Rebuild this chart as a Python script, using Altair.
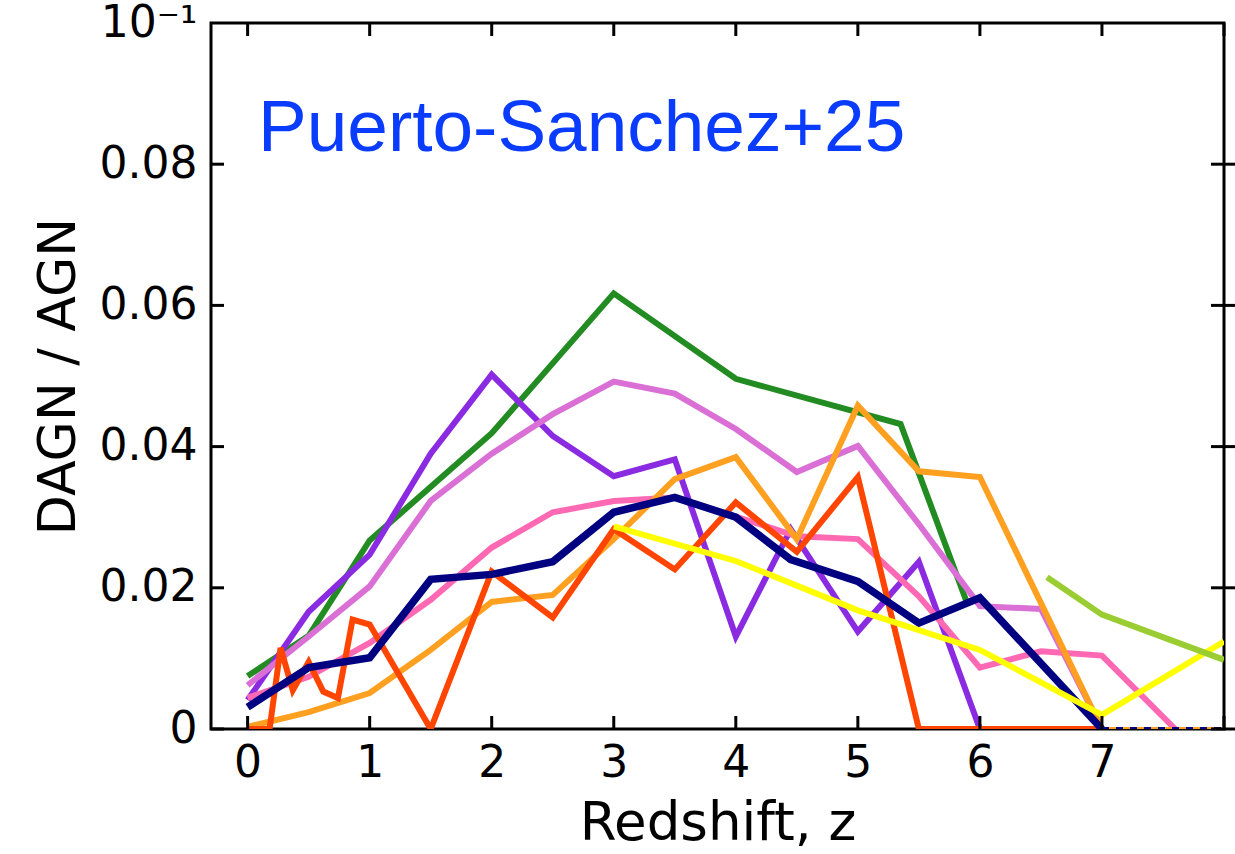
import altair as alt
import pandas as pd

# ---- data: DAGN / AGN ratio versus redshift for each run ----
green_z = [0, 0.5, 1, 2, 3, 4, 5.35, 5.9]
green_v = [0.0075, 0.0132, 0.0267, 0.0419, 0.0617, 0.0496, 0.0432, 0.0176]

purple_z = [0, 0.5, 1, 1.5, 2, 2.5, 3, 3.5, 4, 4.45, 5, 5.5, 6, 7]
purple_v = [0.0041, 0.0166, 0.0247, 0.039, 0.0502, 0.0415, 0.0358, 0.0382,
            0.0131, 0.0283, 0.0138, 0.0237, 0.0, 0.0]

orchid_z = [0, 0.5, 1, 1.5, 2, 2.5, 3, 3.5, 4, 4.5, 5, 5.5, 6, 6.5, 7]
orchid_v = [0.0062, 0.0131, 0.0202, 0.0323, 0.039, 0.0446, 0.0492, 0.0475,
            0.0425, 0.0364, 0.0401, 0.029, 0.0174, 0.017, 0.0]

pink_z = [0, 0.5, 1, 1.5, 2, 2.5, 3, 3.5, 4, 4.5, 5, 5.5, 6, 6.5, 7, 7.6]
pink_v = [0.0044, 0.0074, 0.0122, 0.0183, 0.0257, 0.0307, 0.0323, 0.0328,
          0.0301, 0.0273, 0.0269, 0.0188, 0.0087, 0.011, 0.0104, 0.0]

orange_z = [0, 0.5, 1, 1.5, 2, 2.5, 3, 3.5, 4, 4.5, 5, 5.5, 6, 7]
orange_v = [0.0003, 0.0024, 0.0051, 0.0112, 0.018, 0.019, 0.0269, 0.0354,
            0.0385, 0.0269, 0.0458, 0.0365, 0.0357, 0.0]

red_z = [0, 0.18, 0.27, 0.37, 0.5, 0.62, 0.74, 0.86, 1.0, 1.5, 2, 2.5, 3,
         3.5, 4, 4.5, 5, 5.5, 7]
red_v = [0.0, 0.0, 0.0115, 0.0055, 0.0095, 0.0053, 0.0044, 0.0155, 0.0148,
         0.0, 0.0223, 0.0158, 0.0283, 0.0226, 0.0321, 0.0251, 0.0357, 0.0, 0.0]

navy_z = [0, 0.5, 1, 1.5, 2, 2.5, 3, 3.5, 4, 4.45, 5, 5.5, 6, 7]
navy_v = [0.0031, 0.0087, 0.0101, 0.0212, 0.0219, 0.0237, 0.0307, 0.0328,
          0.030, 0.024, 0.0209, 0.015, 0.0186, 0.0]

yellow_z = [3, 4, 5, 6, 7, 8]
yellow_v = [0.0287, 0.0238, 0.0168, 0.0112, 0.002, 0.0124]

ygreen_z = [6.55, 7, 8]
ygreen_v = [0.0215, 0.0162, 0.0098]

# zero-valued tails beyond z = 7
tail_z = [7, 8]
tail_v = [0.0, 0.0]

# axis ticks and labels
x_ticks = [0, 1, 2, 3, 4, 5, 6, 7, 8]
x_labels = [0, 1, 2, 3, 4, 5, 6, 7]
y_ticks = [0.0, 0.02, 0.04, 0.06, 0.08, 0.1]

annotation = "Puerto-Sanchez+25"

W, H = 1013, 706
FONT = "DejaVu Sans"

x_scale = alt.Scale(domain=[-0.3, 8.0], nice=False, zero=False)
y_scale = alt.Scale(domain=[0.0, 0.1], nice=False, zero=False)

# one shared axis definition per channel, used by every layer
x_axis = alt.Axis(values=x_labels, ticks=False, domain=False, grid=False,
                  labelFont=FONT, labelFontSize=44, labelColor="black",
                  labelPadding=12, title="Redshift, z", titleFont=FONT,
                  titleFontSize=53, titleFontWeight="normal",
                  titleColor="black", titlePadding=12)
y_axis = alt.Axis(values=y_ticks, ticks=False, domain=False, grid=False,
                  labelExpr="datum.value >= 0.1 ? '10⁻¹' : "
                            "(datum.value == 0 ? '0' : format(datum.value, '.2f'))",
                  labelFont=FONT, labelFontSize=44, labelColor="black",
                  labelPadding=14, labelFlush=False, title="DAGN / AGN",
                  titleFont=FONT, titleFontSize=52,
                  titleFontWeight="normal", titleColor="black",
                  titlePadding=14)

X = alt.X("z:Q", scale=x_scale, axis=x_axis)
Y = alt.Y("v:Q", scale=y_scale, axis=y_axis)


def frame(z, v):
    return pd.DataFrame({"z": z, "v": v})


def line(z, v, color, width, dash=None, dash_offset=None):
    kw = dict(color=color, strokeWidth=width, strokeJoin="miter",
              strokeCap="butt", clip=True)
    if dash is not None:
        kw["strokeDash"] = dash
    if dash_offset is not None:
        kw["strokeDashOffset"] = dash_offset
    return alt.Chart(frame(z, v)).mark_line(**kw).encode(x=X, y=Y)


layers = [
    line(green_z, green_v, "#228B22", 6),
    line(purple_z, purple_v, "#8A2BE2", 6),
    line(orchid_z, orchid_v, "#DA70D6", 6),
    line(pink_z, pink_v, "#FF69B4", 6),
    line(orange_z, orange_v, "#FFA020", 6),
    line(red_z, red_v, "#FF4500", 6),
    line(navy_z, navy_v, "#000080", 7.5),
    line(yellow_z, yellow_v, "#FFFF00", 6),
    line(ygreen_z, ygreen_v, "#9ACD32", 6),
    line(tail_z, tail_v, "#000080", 4, dash=[7, 7]),
    line(tail_z, tail_v, "#FFA020", 4, dash=[7, 7], dash_offset=7),
]

# inward tick marks on all four sides (right side crosses the frame)
xt = pd.DataFrame({"z": x_ticks})
yt = pd.DataFrame({"v": y_ticks[:-1]})
tick_style = dict(color="black", strokeWidth=3)

bottom_ticks = alt.Chart(xt).mark_rule(**tick_style).encode(
    x=X, y=alt.value(H), y2=alt.value(H - 13))
top_ticks = alt.Chart(xt).mark_rule(**tick_style).encode(
    x=X, y=alt.value(0), y2=alt.value(13))
left_ticks = alt.Chart(yt).mark_rule(**tick_style).encode(
    y=Y, x=alt.value(0), x2=alt.value(13))
right_ticks = alt.Chart(yt).mark_rule(**tick_style).encode(
    y=Y, x=alt.value(W - 13), x2=alt.value(W + 13))

label = alt.Chart(pd.DataFrame({"z": [0.085], "v": [0.0819], "t": [annotation]})).mark_text(
    align="left", baseline="alphabetic", font="Liberation Sans",
    fontSize=73, color="#0A3CFF"
).encode(x=X, y=Y, text="t:N")

chart = alt.layer(
    *layers, bottom_ticks, top_ticks, left_ticks, right_ticks, label
).properties(
    width=W, height=H,
    padding={"left": 211, "top": 23, "right": 11, "bottom": 125},
    autosize=alt.AutoSizeParams(type="none"),
    background="white",
).configure_view(stroke="black", strokeWidth=3)

chart.save("out.html", embed_options={"renderer": "svg", "actions": False})
